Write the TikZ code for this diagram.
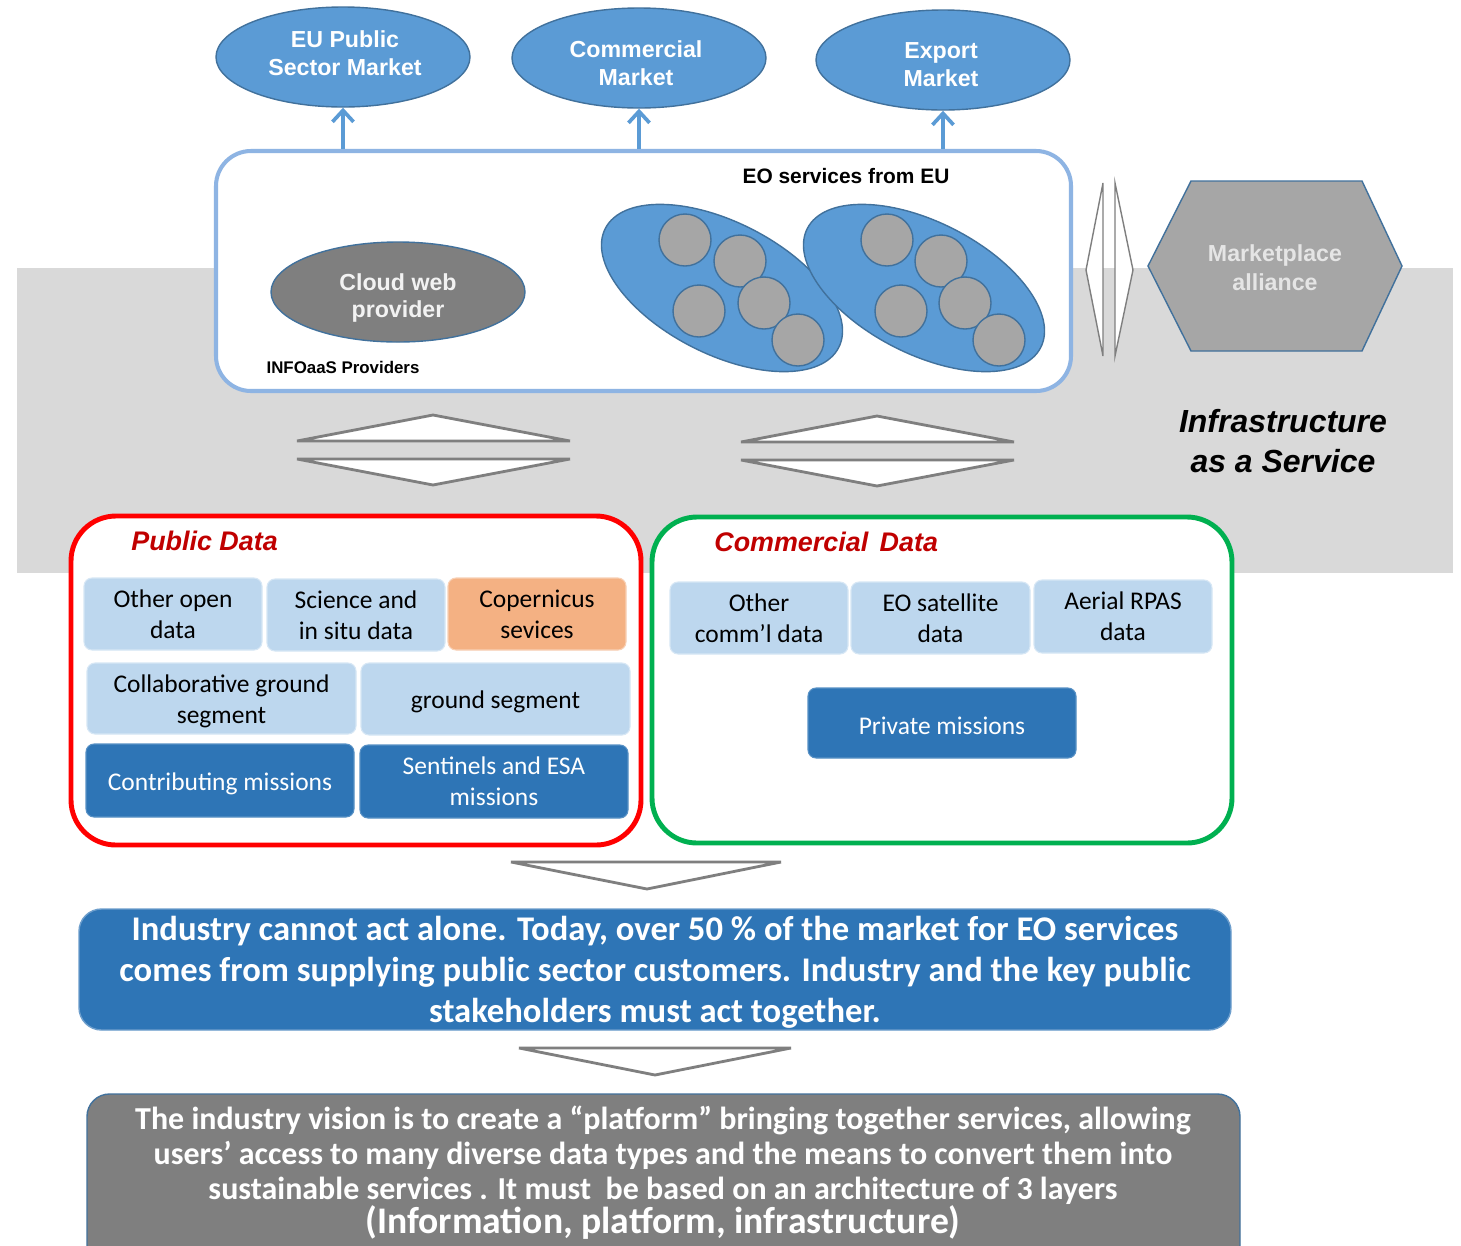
\documentclass[tikz,border=0pt]{standalone}
\usepackage{fontspec}
\setmainfont{Carlito}
\newfontfamily\arialf{Liberation Sans}
\usetikzlibrary{shapes.geometric,arrows.meta}
\newdimen\pxu \pxu=0.02cm
\newcommand\lowered[1]{\raisebox{-1.7pt}[\height][\depth]{#1}}
\definecolor{ellblue}{HTML}{5B9BD5}
\definecolor{ellline}{HTML}{41719C}
\definecolor{frameblue}{HTML}{8EB4E3}
\definecolor{bandgray}{HTML}{D9D9D9}
\definecolor{midgray}{HTML}{7F7F7F}
\definecolor{lightgray}{HTML}{A6A6A6}
\definecolor{paleblue}{HTML}{BDD7EE}
\definecolor{paleorange}{HTML}{F4B183}
\definecolor{deepblue}{HTML}{2E75B6}
\definecolor{pubred}{HTML}{FF0000}
\definecolor{comgreen}{HTML}{00B050}
\definecolor{titlered}{HTML}{C00000}
\begin{document}
\begin{tikzpicture}[x=0.02cm, y=-0.02cm,
  mkt/.style={ellipse, draw=ellline, line width=0.8pt, fill=ellblue, inner sep=0pt,
    minimum width=254*\pxu, minimum height=100*\pxu},
  mkttext/.style={text=white, align=center, inner sep=0pt,
    font=\arialf\bfseries\fontsize{13.2}{15.9}\selectfont},
  uparr/.style={draw=ellblue, line width=2.1pt, -{Straight Barb[length=6.5pt,width=12pt]}},
  blob/.style={ellipse, draw=ellline, line width=0.8pt, fill=ellblue, inner sep=0pt,
    minimum width=262*\pxu, minimum height=132*\pxu},
  dot/.style={circle, draw=ellline, line width=0.8pt, fill=lightgray, inner sep=0pt,
    minimum size=52*\pxu},
  tri/.style={draw=midgray, line width=1.6pt, fill=white, line join=miter},
  thintri/.style={draw=midgray, line width=0.8pt, fill=white},
  cell/.style={rectangle, rounded corners=0.16cm, inner sep=0pt, align=center,
    font=\fontsize{14.5}{17.6}\selectfont},
  lite/.style={cell, fill=paleblue, draw=paleblue!60!white, line width=0.6pt},
  warm/.style={cell, fill=paleorange, draw=paleorange!60!white, line width=0.6pt},
  dark/.style={cell, fill=deepblue, draw=deepblue!80!white, line width=0.6pt, text=white},
  datatitle/.style={anchor=west, inner sep=0pt, text=titlered,
    font=\arialf\bfseries\itshape\fontsize{15.3}{18}\selectfont}
]
\clip (0,0) rectangle (1461,1245);
\fill[white] (0,0) rectangle (1461,1245);

% infrastructure band
\fill[bandgray] (17,268) rectangle (1453,573);

% target markets
\node[mkt] (eu)  at (343,57) {};
\node[mkt] (com) at (639,58) {};
\node[mkt] (exp) at (943,60) {};
\node[mkttext] (eut)  at (345,53) {EU Public\\Sector Market};
\node[mkttext] (comt) at (636,63) {Commercial\\Market};
\node[mkttext] (expt) at (941,65) {Export\\Market};

% information-as-a-service providers
\node[rectangle, draw=frameblue, line width=2.3pt, fill=white, rounded corners=0.7cm,
      minimum width=855*\pxu, minimum height=240*\pxu, inner sep=0pt] (main) at (643.5,271) {};

\draw[uparr] (eu.south |- main.north) -- (eu.south);
\draw[uparr] (com.south |- main.north) -- (com.south);
\draw[uparr] (exp.south |- main.north) -- (exp.south);

\node[font=\arialf\bfseries\fontsize{11.9}{13}\selectfont] (eo) at (846,176) {EO services from EU};
\node[ellipse, draw=ellline, line width=0.8pt, fill=midgray, inner sep=0pt,
      minimum width=254*\pxu, minimum height=100*\pxu] (cloud) at (398,292) {};
\node[mkttext, text=white!95!black] (cloudt) at (398,298) {Cloud web\\provider};
\node[font=\arialf\bfseries\fontsize{9.6}{11}\selectfont] (infoaas) at (343,367) {INFOaaS Providers};

\node[blob, rotate=-27] (b1) at (722,288) {};
\node[dot] (b1a) at (685,240) {};
\node[dot] (b1b) at (740,261) {};
\node[dot] (b1c) at (699,311) {};
\node[dot] (b1d) at (764,303) {};
\node[dot] (b1e) at (798,340) {};
\node[blob, rotate=-27] (b2) at (924,288) {};
\node[dot] (b2a) at (887,240) {};
\node[dot] (b2b) at (941,261) {};
\node[dot] (b2c) at (901,311) {};
\node[dot] (b2d) at (965,303) {};
\node[dot] (b2e) at (999,340) {};

% two-way link to the marketplace
\draw[thintri] (1103,183) -- (1103,356) -- (1086,270) -- cycle;
\draw[thintri] (1115,183) -- (1115,356) -- (1133,270) -- cycle;

\fill[lightgray, draw=ellline, line width=0.8pt]
  (1148,266) -- (1191,181) -- (1362,181) -- (1402,266) -- (1362,351) -- (1191,351) -- cycle;
\node[align=center, text=white!90!black, font=\arialf\bfseries\fontsize{13.2}{16.4}\selectfont]
  (alliance) at (1275,268) {Marketplace\\alliance};

\node[align=center, font=\arialf\bfseries\itshape\fontsize{18.2}{22.7}\selectfont]
  (iaas) at (1283,441) {Infrastructure\\as a Service};

% exchange between data and services
\draw[tri] (297,441) -- (570,441) -- (433,415) -- cycle;
\draw[tri] (297,459) -- (570,459) -- (433,485) -- cycle;
\draw[tri] (741,442) -- (1014,442) -- (877,416) -- cycle;
\draw[tri] (741,460) -- (1014,460) -- (877,486) -- cycle;

% public data
\node[rectangle, draw=pubred, line width=2.8pt, fill=white, rounded corners=0.9cm,
      minimum width=570*\pxu, minimum height=329*\pxu, inner sep=0pt] (pub) at (356,680.5) {};
\node[datatitle] (pubt) at (131,541) {Public Data};
\node[lite, minimum width=178*\pxu, minimum height=72*\pxu] (pd1) at (173,614) {Other open\\data};
\node[lite, minimum width=178*\pxu, minimum height=72*\pxu] (pd2) at (356,615) {Science and\\in situ data};
\node[warm, minimum width=178*\pxu, minimum height=72*\pxu] (pd3) at (537,614) {Copernicus\\sevices};
\node[lite, minimum width=269*\pxu, minimum height=71*\pxu] (pd4) at (221.5,698.5)
  {\lowered{\parbox{269\pxu}{\centering Collaborative ground\\segment}}};
\node[lite, minimum width=269*\pxu, minimum height=72*\pxu] (pd5) at (495.5,699) {\lowered{ground segment}};
\node[dark, minimum width=268*\pxu, minimum height=73*\pxu] (pd6) at (220,780.5) {\lowered{Contributing missions}};
\node[dark, minimum width=268*\pxu, minimum height=73*\pxu] (pd7) at (494,781.5) {Sentinels and ESA\\missions};

% commercial data
\node[rectangle, draw=comgreen, line width=2.8pt, fill=white, rounded corners=0.9cm,
      minimum width=580*\pxu, minimum height=326*\pxu, inner sep=0pt] (comm) at (942,680) {};
\node[datatitle] (commt) at (714,542) {Commercial\hspace{0.15em} Data};
\node[lite, minimum width=178*\pxu, minimum height=72*\pxu] (cd1) at (759,618) {Other\\comm’l data};
\node[lite, minimum width=179*\pxu, minimum height=72*\pxu] (cd2) at (940.5,618) {EO satellite\\data};
\node[lite, minimum width=178*\pxu, minimum height=73*\pxu] (cd3) at (1123,616.5) {Aerial RPAS\\data};
\node[dark, minimum width=268*\pxu, minimum height=70*\pxu] (cd4) at (942,723) {\lowered{Private missions}};

% conclusions
\draw[tri] (511,862) -- (781,862) -- (647,889) -- cycle;
\node[rectangle, fill=deepblue, draw=deepblue!70!white, line width=0.8pt, rounded corners=0.45cm,
      minimum width=1152*\pxu, minimum height=121*\pxu, inner sep=0pt] (msg1) at (655,969.5) {};
\node[align=center, text=white, font=\bfseries\fontsize{19.7}{23.3}\selectfont] (msg1t) at (655,972)
  {Industry cannot act alone. Today, over 50 \% of the market for EO services\\
   comes from supplying public sector customers. Industry and the key public\\
   stakeholders must act together.};

\draw[tri] (519,1048) -- (791,1048) -- (655,1075) -- cycle;
\node[rectangle, fill=midgray, draw=ellline, line width=0.8pt, rounded corners=0.45cm,
      minimum width=1153*\pxu, minimum height=181*\pxu, inner sep=0pt] (msg2) at (663.5,1184.5) {};
\node[align=center, text=white, font=\bfseries\fontsize{18.2}{19.7}\selectfont] (msg2t) at (663,1173)
  {The industry vision is to create a “platform” bringing together services, allowing\\
   users’ access to many diverse data types and the means to convert them into\\
   sustainable services . It must\ \ be based on an architecture of 3 layers\\
   {\fontsize{21.4}{19.7}\selectfont (Information, platform, infrastructure)}};
\end{tikzpicture}
\end{document}
